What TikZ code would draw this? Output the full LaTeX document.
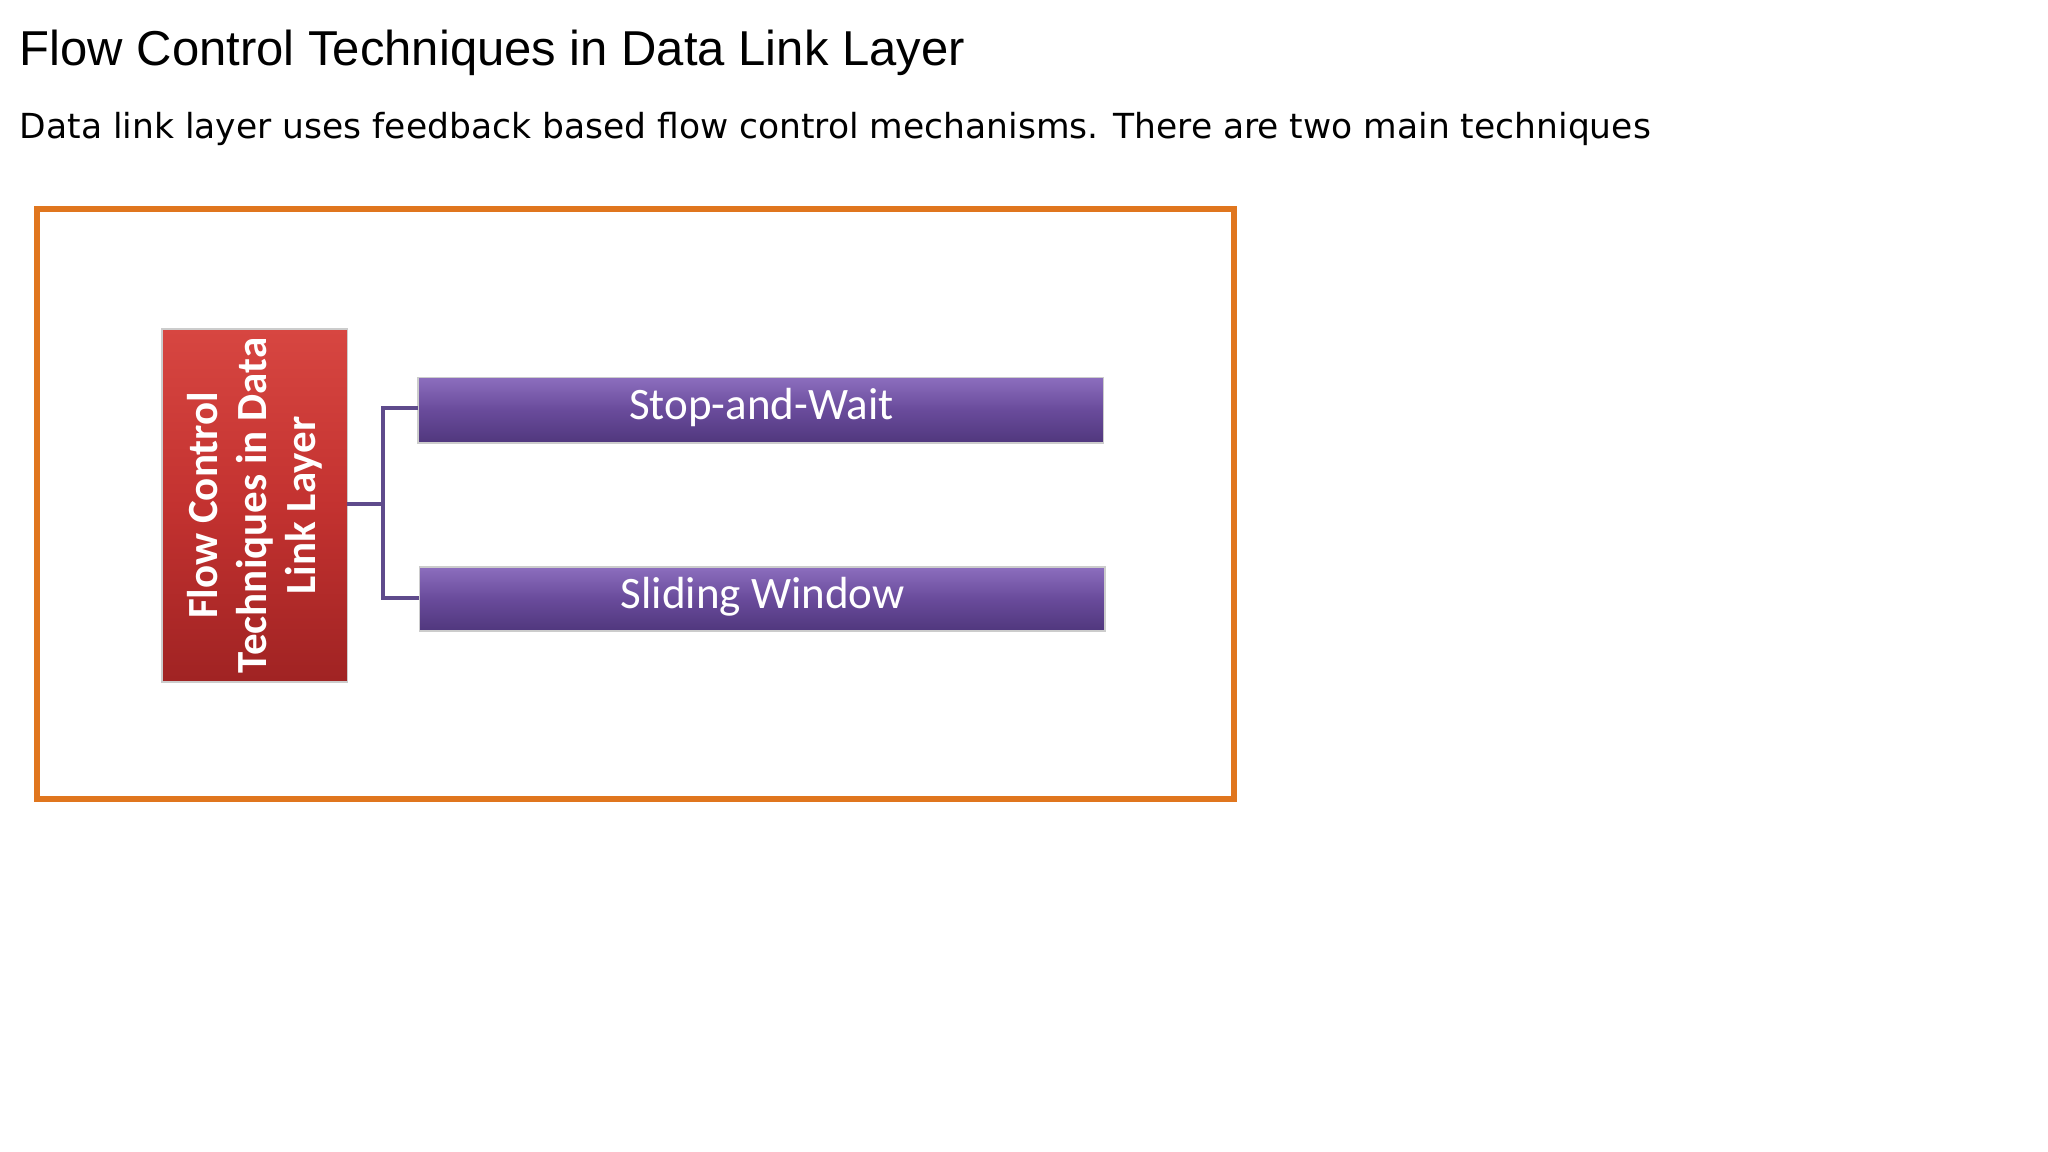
\documentclass[tikz,border=0pt]{standalone}
\usepackage{fontspec}
\setmainfont{Liberation Sans}
\newfontfamily\verd{DejaVu Sans}
\newfontfamily\calib{Carlito}
\definecolor{pTop}{RGB}{140,110,190}
\definecolor{pMid}{RGB}{105,75,155}
\definecolor{pBot}{RGB}{80,55,125}
\definecolor{rTop}{RGB}{215,70,65}
\definecolor{rMid}{RGB}{195,50,48}
\definecolor{rBot}{RGB}{160,35,35}
\definecolor{orng}{RGB}{224,118,30}
\definecolor{lnk}{RGB}{95,75,140}
\begin{document}
\begin{tikzpicture}[x=1.306pt,y=-1.306pt,
  redbox/.style={draw=gray!40, line width=1.5pt, top color=rTop, bottom color=rBot, middle color=rMid},
  purbox/.style={draw=gray!40, line width=1.5pt, top color=pTop, bottom color=pBot, middle color=pMid},
  conn/.style={draw=lnk, line width=4pt}]
\useasboundingbox (0,0) rectangle (1568,882);
\node[anchor=base west, inner sep=0, font=\fontsize{49}{54}\selectfont] (title) at (15,50) {Flow Control Techniques in Data Link Layer};
\node[anchor=base west, inner sep=0, font=\verd\fontsize{34.5}{40}\selectfont] (sub) at (15,106) {Data link layer uses feedback based flow control mechanisms. There are two main techniques};
\draw[draw=orng, line width=6pt] (28,160) rectangle (945,612);
\path[redbox] (124,252) rectangle (266,522);
\node[rotate=90, text=white, align=center, font=\calib\bfseries\fontsize{43}{49}\selectfont] (root) at (195,387) {Flow Control\\Techniques in Data\\Link Layer};
\coordinate (rr) at (266,386);
\path[purbox] (320,289) rectangle (845,339);
\path[purbox] (321,434) rectangle (846,483);
\node[text=white, font=\calib\fontsize{45}{50}\selectfont] (sw) at (583,312) {Stop-and-Wait};
\node[text=white, font=\calib\fontsize{45}{50}\selectfont] (sl) at (584,457) {Sliding Window};
\coordinate (a) at (320,312);
\coordinate (b) at (321,458);
\coordinate (m) at (293,386);
\draw[conn] (rr) -- (m);
\draw[conn] (a) -- (293,312) -- (293,458) -- (b);
\end{tikzpicture}
\end{document}
